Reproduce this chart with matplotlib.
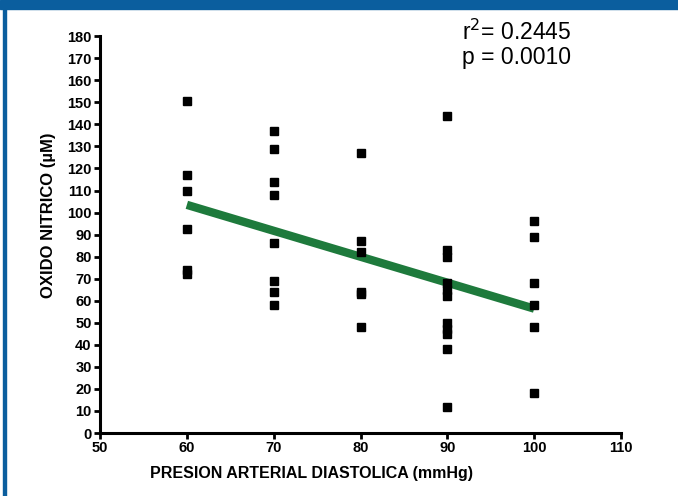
import numpy as np
import matplotlib
matplotlib.use("Agg")
import matplotlib.pyplot as plt
from matplotlib.patches import Rectangle

plt.rcParams["font.family"] = ["Liberation Sans", "DejaVu Sans"]

# Data: diastolic pressure groups and nitric oxide values
pad_60 = [150.5, 117, 110, 92.5, 74, 72]
pad_70 = [137, 129, 114, 108, 86, 69, 64, 58]
pad_80 = [127, 87, 82, 64, 63, 48]
pad_90 = [144, 83, 80, 68, 65, 62, 50, 47, 45, 38, 12]
pad_100 = [96, 89, 68, 58, 48, 18]
groups = [60, 70, 80, 90, 100]
values = [pad_60, pad_70, pad_80, pad_90, pad_100]

x = np.concatenate([[g] * len(v) for g, v in zip(groups, values)])
y = np.concatenate(values)

fig = plt.figure(figsize=(6.78, 4.96), dpi=100)
ax = fig.add_axes([0.1475, 0.127, 0.7685, 0.8])

ax.plot(x, y, "s", color="black", markersize=6.3, zorder=3)

# Linear regression line
slope, intercept = np.polyfit(x, y, 1)
xf = np.array([60, 100])
ax.plot(xf, slope * xf + intercept, color="#1e7a3c", linewidth=6, solid_capstyle="butt", zorder=2)

ax.set_xlim(50, 110)
ax.set_ylim(0, 180)
ax.set_xticks(range(50, 111, 10))
ax.set_yticks(range(0, 181, 10))
for s in ["top", "right"]:
    ax.spines[s].set_visible(False)
for s in ["left", "bottom"]:
    ax.spines[s].set_linewidth(2.2)
    ax.spines[s].set_capstyle("projecting")
ax.tick_params(axis="both", direction="out", length=4, width=2, labelsize=10.5, pad=2)
for lab in ax.get_xticklabels() + ax.get_yticklabels():
    lab.set_fontweight("bold")

ax.set_xlabel("PRESION ARTERIAL DIASTOLICA (mmHg)", fontsize=11.5, fontweight="bold")
ax.xaxis.set_label_coords(0.405, -0.082)
ax.set_ylabel("OXIDO NITRICO (\u00b5M)", fontsize=12, fontweight="bold")
ax.yaxis.set_label_coords(-0.085, 0.55)

fig.text(0.681, 0.934, "r$^2$= 0.2445", fontsize=16.5, va="center", ha="left")
fig.text(0.681, 0.885, "p = 0.0010", fontsize=16.5, va="center", ha="left")

# Blue frame of the original figure
fig.add_artist(Rectangle((0, 1 - 9 / 496), 1, 9 / 496, transform=fig.transFigure, color="#0b5e9e", zorder=0))
fig.add_artist(Rectangle((3 / 678, 0), 3 / 678, 1, transform=fig.transFigure, color="#0b5e9e", zorder=0))

fig.savefig("out.png", dpi=100)
